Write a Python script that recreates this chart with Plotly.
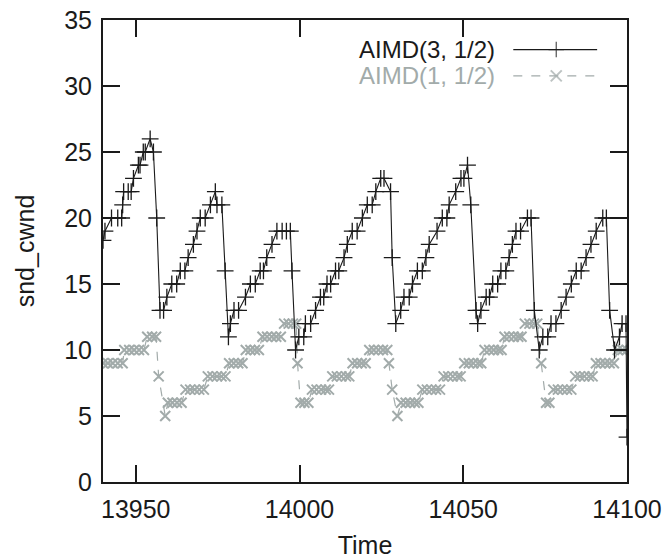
import plotly.graph_objects as go

# ---------------- data ----------------
aimd3_t = [13940.0, 13940.6, 13942.6, 13944.5, 13945.7, 13946.0, 13946.3, 13947.7, 13948.6, 13949.3,
           13950.8, 13951.3, 13952.3, 13952.9, 13954.4, 13955.4, 13956.4, 13957.4, 13958.5,
           13959.5, 13961.0, 13962.5, 13963.6, 13965.0, 13966.0, 13967.6, 13968.7, 13969.7, 13971.2,
           13972.8, 13974.3, 13974.8, 13976.3, 13977.3, 13978.3,
           13978.9, 13980.0, 13981.4, 13983.5, 13985.0, 13986.5, 13988.0, 13989.0, 13990.0, 13991.6,
           13993.1, 13994.7, 13996.0, 13997.2, 13997.7, 13998.8,
           13999.8, 14001.3, 14001.8, 14003.4, 14004.9, 14006.4, 14007.4, 14008.4, 14009.5, 14011.0,
           14012.0, 14013.6, 14014.6, 14016.1, 14017.6, 14019.2, 14020.7, 14022.2, 14023.3, 14024.8,
           14025.8, 14027.8, 14028.3, 14029.4,
           14030.9, 14031.9, 14033.5, 14034.5, 14036.0, 14037.5, 14038.6, 14039.6, 14042.0, 14043.6,
           14045.0, 14045.7, 14047.7, 14049.3, 14050.2, 14051.3, 14052.3, 14053.9, 14054.4,
           14055.4, 14057.0, 14058.0, 14059.0, 14060.5, 14061.5, 14063.0, 14064.0, 14065.0, 14066.1,
           14067.5, 14069.6, 14070.7, 14071.7, 14073.2,
           14074.3, 14075.8, 14076.8, 14078.3, 14079.9, 14081.4, 14083.0, 14084.5, 14086.0, 14087.5,
           14089.0, 14090.6, 14092.6, 14093.7, 14094.7, 14096.2, 14097.7, 14098.5, 14099.7, 14100.0]
aimd3_w = [18.3, 19, 20, 20, 20, 21, 22, 22, 22, 23,
           24, 24, 25, 25, 26, 25, 20, 13, 13,
           14, 15, 15, 16, 16, 17, 18, 19, 20, 20,
           21, 22, 21, 21, 16, 11,
           12, 13, 13, 14, 15, 15, 16, 16, 17, 18,
           19, 19, 19, 19, 16, 10,
           11, 11, 12, 12, 13, 14, 14, 15, 15, 16,
           16, 17, 18, 19, 19, 20, 21, 21, 22, 23,
           23, 22, 17, 12,
           13, 14, 14, 15, 16, 16, 17, 18, 19, 20,
           20, 21, 22, 23, 23, 24, 21, 13, 12,
           13, 14, 14, 15, 15, 16, 16, 17, 18, 19,
           19, 20, 20, 13, 10,
           11, 11, 12, 12, 13, 14, 15, 16, 16, 17,
           18, 19, 20, 20, 13, 10, 11, 12, 12, 3.4]

aimd1_t = [13940.0, 13941.5, 13943.0, 13944.5, 13946.0,
           13946.5, 13948.0, 13949.5, 13951.0, 13952.5,
           13953.5, 13955.0, 13956.2, 13957.0, 13959.0,
           13959.8, 13961.2, 13962.6, 13964.0,
           13965.2, 13966.6, 13968.0, 13969.4, 13970.8,
           13972.0, 13973.4, 13974.8, 13976.2, 13977.4,
           13978.5, 13979.9, 13981.3, 13982.6,
           13983.6, 13985.0, 13986.4, 13987.6,
           13988.7, 13990.1, 13991.5, 13992.9, 13994.3,
           13995.3, 13996.7, 13998.0, 13999.0, 13999.4,
           14000.3, 14001.5, 14002.7,
           14003.8, 14005.2, 14006.6, 14008.0, 14009.0,
           14010.0, 14011.4, 14012.8, 14014.2, 14015.2,
           14016.2, 14017.6, 14019.0, 14020.2,
           14021.3, 14022.7, 14024.1, 14025.5, 14026.8,
           14027.3, 14028.3, 14029.9,
           14031.0, 14032.4, 14033.8, 14035.2, 14036.3,
           14037.5, 14038.9, 14040.3, 14041.7, 14042.9,
           14044.0, 14045.4, 14046.8, 14048.2, 14049.2,
           14050.3, 14051.7, 14053.1, 14054.5, 14055.5,
           14056.5, 14057.9, 14059.3, 14060.7, 14061.7,
           14062.6, 14064.0, 14065.4, 14066.8, 14067.8,
           14068.8, 14070.2, 14071.6, 14072.6, 14073.8,
           14075.3, 14076.3,
           14077.5, 14078.9, 14080.3, 14081.7, 14083.0,
           14084.2, 14085.6, 14087.0, 14088.4, 14089.5,
           14090.5, 14091.9, 14093.3, 14094.7, 14096.0,
           14097.2, 14098.6, 14100.0]
aimd1_w = [9, 9, 9, 9, 9,
           10, 10, 10, 10, 10,
           11, 11, 11, 8, 5,
           6, 6, 6, 6,
           7, 7, 7, 7, 7,
           8, 8, 8, 8, 8,
           9, 9, 9, 9,
           10, 10, 10, 10,
           11, 11, 11, 11, 11,
           12, 12, 12, 12, 9,
           6, 6, 6,
           7, 7, 7, 7, 7,
           8, 8, 8, 8, 8,
           9, 9, 9, 9,
           10, 10, 10, 10, 10,
           9, 7, 5,
           6, 6, 6, 6, 6,
           7, 7, 7, 7, 7,
           8, 8, 8, 8, 8,
           9, 9, 9, 9, 9,
           10, 10, 10, 10, 10,
           11, 11, 11, 11, 11,
           12, 12, 12, 12, 9,
           6, 6,
           7, 7, 7, 7, 7,
           8, 8, 8, 8, 8,
           9, 9, 9, 9, 9,
           10, 10, 10]

series_names = ["AIMD(3, 1/2)", "AIMD(1, 1/2)"]
x_ticks = [13950, 14000, 14050, 14100]
x_tick_labels = ["13950", "14000", "14050", "14100"]
y_ticks = [0, 5, 10, 15, 20, 25, 30, 35]
y_tick_labels = ["0", "5", "10", "15", "20", "25", "30", "35"]

# ---------------- style ----------------
BLACK = "#1a1a1a"
GRAY = "#a2abaa"
FONT = "Liberation Sans, Arial, Helvetica, sans-serif"
FS = 25
LEG_FS = 24

fig = go.Figure()
fig.add_trace(go.Scatter(
    x=aimd1_t, y=aimd1_w, mode="lines+markers", name=series_names[1],
    line=dict(color=GRAY, width=1.2, dash="dash"),
    marker=dict(symbol="x-thin", size=10, line=dict(color=GRAY, width=2)),
    showlegend=False, cliponaxis=True))
fig.add_trace(go.Scatter(
    x=aimd3_t, y=aimd3_w, mode="lines+markers", name=series_names[0],
    line=dict(color=BLACK, width=1.1),
    marker=dict(symbol="cross-thin", size=12, line=dict(color=BLACK, width=1.3)),
    showlegend=False, cliponaxis=True))

# legend (gnuplot style: text then sample) on an overlay axis in [0,1]
leg_rows = [0.936, 0.879]
leg_text_x = 0.752
leg_x0, leg_xm, leg_x1 = 0.783, 0.865, 0.943
styles = [(BLACK, "solid", "cross-thin", 1.3), (GRAY, "dash", "x-thin", 2)]
for name, yy, (col, dash, sym, mw) in zip(series_names, leg_rows, styles):
    fig.add_trace(go.Scatter(
        x=[leg_x0, leg_xm, leg_x1], y=[yy] * 3, xaxis="x2", yaxis="y2",
        mode="lines+markers", line=dict(color=col, width=1.2, dash=dash),
        marker=dict(symbol=sym, size=[0, 11, 0], line=dict(color=col, width=mw)),
        showlegend=False, hoverinfo="skip"))
    fig.add_annotation(x=leg_text_x, y=yy, xref="paper", yref="paper",
                       text=name, showarrow=False, xanchor="right", yanchor="middle",
                       font=dict(family=FONT, size=LEG_FS, color=col))

axis_common = dict(
    showline=True, linecolor=BLACK, linewidth=2, mirror="allticks",
    ticks="inside", ticklen=17, tickwidth=2, tickcolor=BLACK,
    showgrid=False, zeroline=False, automargin=False,
    tickfont=dict(family=FONT, size=FS, color=BLACK),
)
fig.update_layout(
    width=666, height=559,
    margin=dict(l=103, r=39, t=20, b=77),
    paper_bgcolor="white", plot_bgcolor="white",
    font=dict(family=FONT, size=FS, color=BLACK),
    xaxis=dict(range=[13940, 14100], tickvals=x_ticks, ticktext=x_tick_labels, ticklabelstandoff=4,
               title=dict(text="Time", font=dict(family=FONT, size=FS, color=BLACK), standoff=15),
               **axis_common),
    yaxis=dict(range=[0, 35], tickvals=y_ticks, ticktext=y_tick_labels, ticklabelstandoff=4,
               title=dict(text="snd_cwnd", font=dict(family=FONT, size=FS, color=BLACK), standoff=22),
               **axis_common),
    xaxis2=dict(overlaying="x", range=[0, 1], visible=False),
    yaxis2=dict(overlaying="y", range=[0, 1], visible=False),
)

fig.write_html("out.html")
